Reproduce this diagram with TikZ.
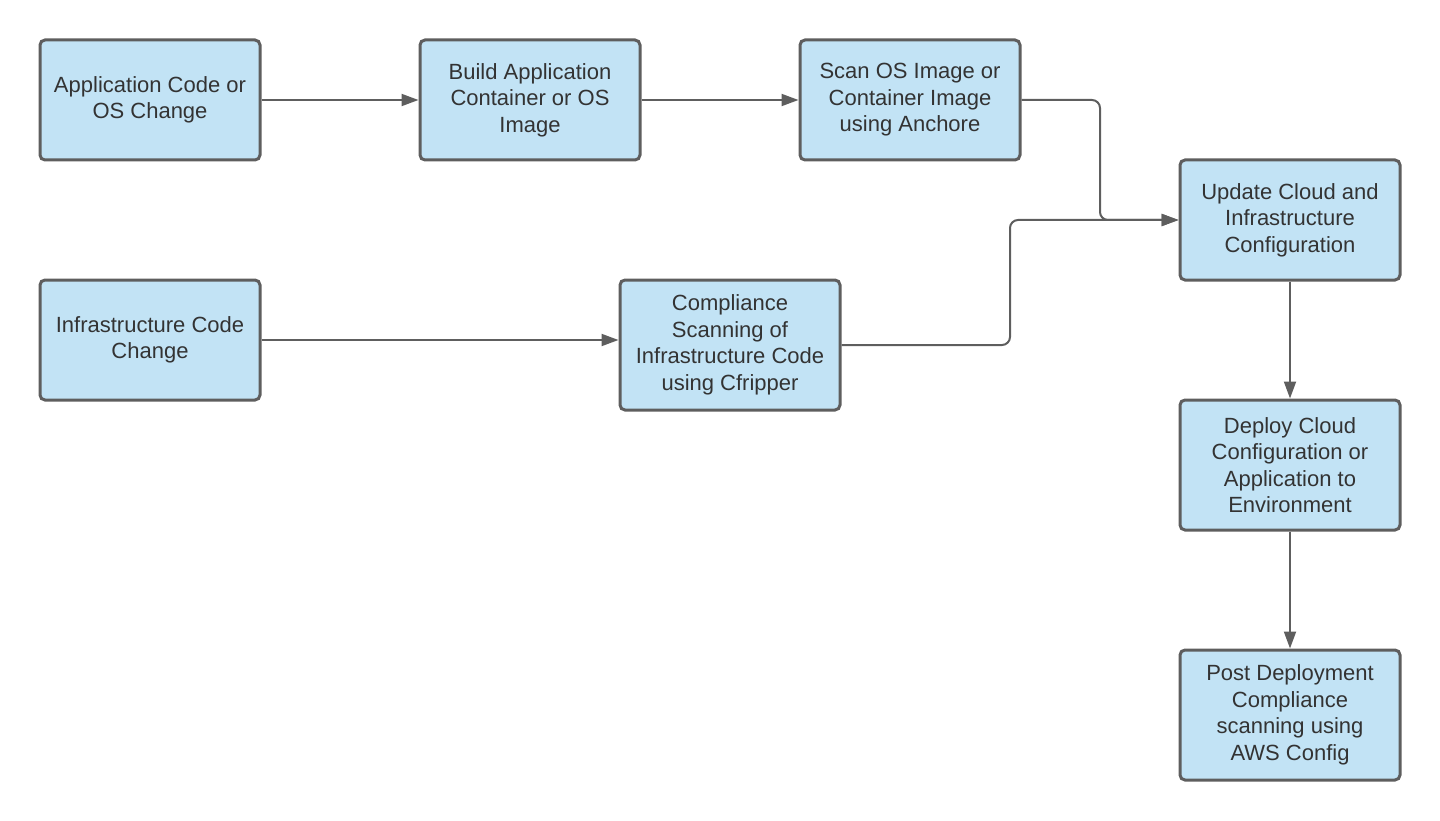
\documentclass[tikz,border=0pt]{standalone}
\usepackage{fontspec}
\setmainfont{Liberation Sans}
\usetikzlibrary{arrows.meta}
\definecolor{boxfill}{HTML}{C2E3F5}
\definecolor{edge}{HTML}{5E5E5E}
\definecolor{txt}{HTML}{333333}
\tikzset{
  box/.style={draw=edge, fill=boxfill, line width=3pt, rounded corners=5pt,
    minimum width=220pt, minimum height=120pt, align=center, text=txt,
    font=\fontsize{22}{26.5}\selectfont, inner sep=0pt},
  tall/.style={minimum height=130pt},
  conn/.style={draw=edge, line width=2pt, rounded corners=8pt,
    -{Triangle[length=17pt,width=12pt]}}
}
\begin{document}
\begin{tikzpicture}[x=1pt,y=-1pt]
\useasboundingbox (0,0) rectangle (1440,821);
\node[box] (a) at (150,100) {Application Code or\\OS Change};
\node[box] (b) at (530,100) {Build Application\\Container or OS\\Image};
\node[box] (c) at (910,100) {Scan OS Image or\\Container Image\\using Anchore};
\node[box] (d) at (1290,220) {Update Cloud and\\Infrastructure\\Configuration};
\node[box] (e) at (150,340) {Infrastructure Code\\Change};
\node[box,tall] (f) at (730,345) {Compliance\\Scanning of\\Infrastructure Code\\using Cfripper};
\node[box,tall] (g) at (1290,465) {Deploy Cloud\\Configuration or\\Application to\\Environment};
\node[box,tall] (h) at (1290,715) {Post Deployment\\Compliance\\scanning using\\AWS Config};
\coordinate (c1) at (1100,100);
\coordinate (c2) at (1100,220);
\coordinate (f1) at (1010,345);
\coordinate (f2) at (1010,220);
\draw[conn] (a) -- (b);
\draw[conn] (b) -- (c);
\draw[conn] (c.east) -- (c1) -- (c2) -- (d.west);
\draw[conn] (e) -- (e -| f.west);
\draw[conn] (f.east) -- (f1) -- (f2) -- (d.west);
\draw[conn] (d) -- (g);
\draw[conn] (g) -- (h);
\end{tikzpicture}
\end{document}
